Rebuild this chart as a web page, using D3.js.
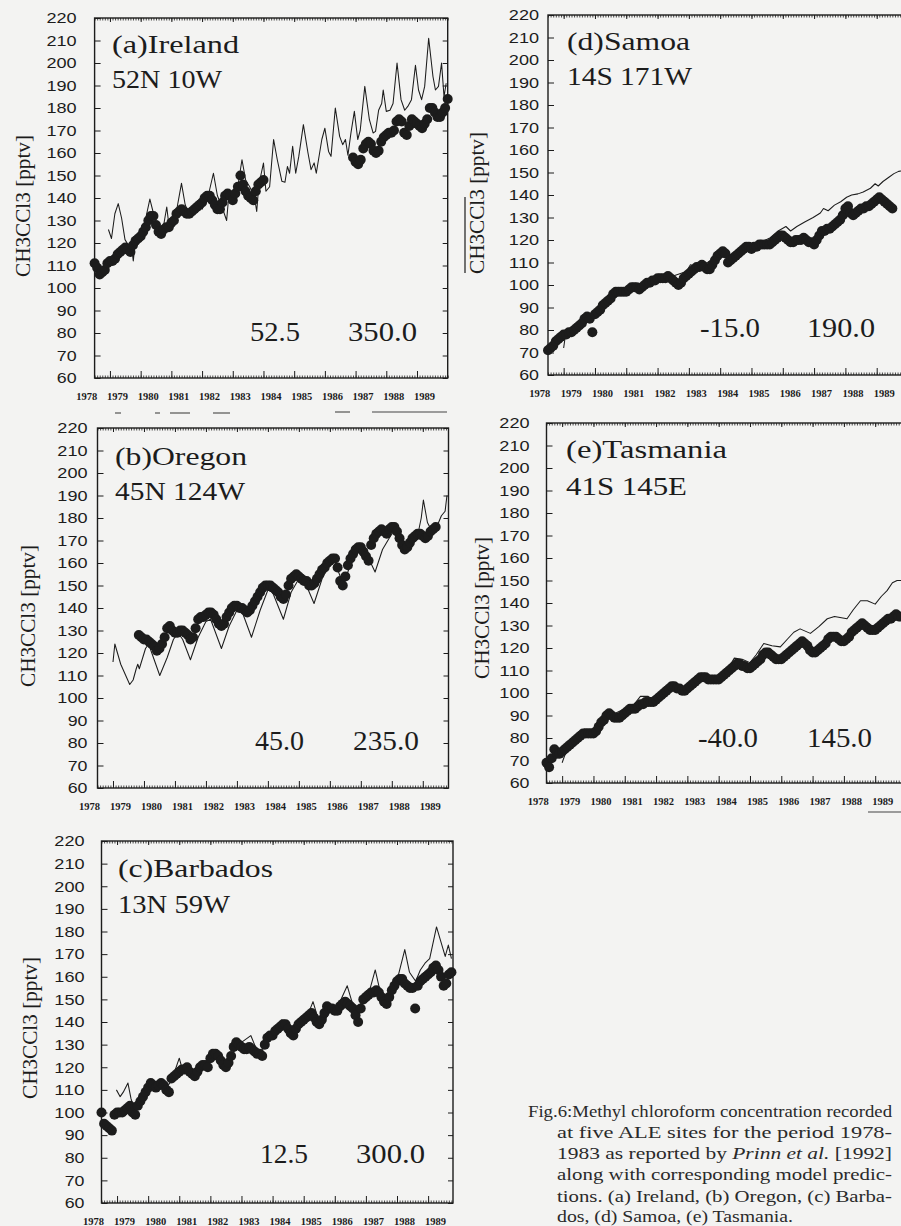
<!DOCTYPE html>
<html>
<head>
<meta charset="utf-8">
<script src="https://cdn.jsdelivr.net/npm/d3@7"></script>
<style>
  html, body { margin: 0; padding: 0; background: #f3f3f2; }
  svg { display: block; }
</style>
</head>
<body>
<svg id="fig" width="901" height="1226"></svg>
<script>
// ---------------- data ----------------
// axis values
const yTicks = [60, 70, 80, 90, 100, 110, 120, 130, 140, 150, 160, 170, 180, 190, 200, 210, 220];
const yearLabels = [1978, 1979, 1980, 1981, 1982, 1983, 1984, 1985, 1986, 1987, 1988, 1989];
const majorYears = [1979, 1980, 1981, 1982, 1983, 1984, 1985, 1986, 1987, 1988, 1989];

// station text
const siteNames = ["(a)Ireland", "(b)Oregon", "(c)Barbados", "(d)Samoa", "(e)Tasmania"];
const siteCoords = ["52N 10W", "45N 124W", "13N 59W", "14S 171W", "41S 145E"];
const modelLat = ["52.5", "45.0", "12.5", "-15.0", "-40.0"];
const modelLon = ["350.0", "235.0", "300.0", "190.0", "145.0"];

// observed monthly means (pptv); each list starts at the given decimal year, one value per month
const startIrelandEarly = 1978.5;
const obsIrelandEarly = [111,109,106,107,108,111,112,112,113,115,116,117,118,117,116,119,121,122,123,125,
  127,130,132,132,128,125,124,126,127,127,129,130,133,134,135,134,133,133,134,135,
  136,137,138,140,141,141,139,137,135,135,138,141,142,141,139,142,145,150,146,143,
  141,140,139,143,146,147,148];
const startIrelandLate = 1986 + 11 / 12;
const obsIrelandLate = [158,156,155,157,162,164,165,164,161,160,161,165,167,168,169,169,170,174,175,174,
  169,168,172,175,174,173,172,171,173,175,180,180,178,176,176,178,180,184];

const startOregon = 1979 + 10 / 12;
const obsOregon = [128,127,
  126,126,125,124,123,121,122,124,127,131,132,130,
  129,129,130,130,129,128,126,127,131,135,136,136,
  137,138,138,137,135,133,132,133,136,138,140,141,
  141,140,140,139,138,139,141,143,145,147,149,150,
  150,150,149,148,147,145,144,146,150,153,154,155,
  154,153,152,152,150,150,151,153,155,157,158,160,
  161,162,162,158,152,150,154,159,162,164,166,167,
  167,165,163,161,168,171,173,174,175,174,173,175,
  176,176,174,171,168,166,167,169,171,172,173,173,
  172,171,172,174,175,176];

const startBarbados = 1978.5;
const obsBarbados = [100,95,94,93,92,99,
  100,100,100,101,102,103,100,99,103,105,107,109,
  111,113,112,111,112,113,112,110,109,115,116,117,
  118,119,119,120,118,117,116,118,120,121,121,120,
  124,126,126,125,123,121,120,122,125,129,131,130,
  129,128,128,129,128,127,126,126,125,130,133,134,
  134,136,137,138,139,139,137,135,134,137,139,140,
  141,142,143,144,142,140,139,141,144,147,146,146,
  145,145,147,148,149,148,147,146,143,140,146,150,
  151,152,153,153,154,153,151,149,148,151,154,156,
  158,159,159,157,156,155,155,146,156,158,159,160,
  161,162,164,165,163,160,156,157,161,162];

const startSamoa = 1978.5;
const obsSamoa = [71,72,73,75,76,77,
  78,78,79,79,80,81,82,83,85,86,85,79,
  87,88,89,91,92,93,94,96,97,97,97,97,
  97,98,99,99,99,98,99,100,101,101,102,102,
  103,103,103,103,104,103,102,101,100,101,103,104,
  105,106,107,108,108,109,108,107,107,109,111,113,
  114,115,114,110,111,112,113,114,115,116,117,117,
  116,117,117,118,118,118,118,118,119,120,121,122,
  122,121,120,119,119,120,120,120,121,120,119,119,
  118,120,122,124,124,125,125,126,127,128,129,131,
  134,135,132,131,132,133,134,134,135,135,136,137,
  138,139,138,137,136,135,134];

const startTasmania = 1978.5;
const obsTasmania = [69,67,71,75,73,73,
  74,75,76,77,78,79,80,81,82,82,82,82,
  82,83,85,87,88,90,91,90,89,89,89,90,
  91,92,93,93,93,94,95,95,96,96,96,96,
  97,98,99,100,101,102,103,103,102,102,101,101,
  102,103,104,105,106,107,107,107,106,106,106,106,
  106,107,108,109,110,111,112,113,113,112,112,111,
  111,112,113,114,115,117,118,118,117,116,115,115,
  115,116,117,118,119,120,121,122,123,122,121,119,
  118,118,119,120,121,122,124,125,125,125,124,123,
  123,124,125,127,128,129,130,131,130,129,128,128,
  128,129,130,131,132,133,133,134,135,134,134];

// model predictions: [decimal year, pptv]
const modelIreland = [[1978.95,126],[1979.05,122],[1979.16,133],[1979.27,137.5],[1979.38,131],[1979.49,121.5],
  [1979.6,119],[1979.7,119],[1979.76,112],[1979.82,120],[1980.0,124],[1980.15,130],[1980.3,139.5],[1980.42,133],
  [1980.55,126],[1980.7,124],[1980.85,136],[1980.92,128],[1981.0,130],[1981.15,133],[1981.33,146.5],[1981.45,137],
  [1981.6,132],[1981.75,133],[1981.9,138],[1982.0,135],[1982.2,141],[1982.37,151],[1982.5,141],[1982.65,136],
  [1982.8,130],[1982.87,141],[1983.0,141],[1983.15,144],[1983.3,157],[1983.42,148],[1983.55,145],[1983.7,141],
  [1983.78,134],[1983.85,146],[1984.0,155.5],[1984.08,143],[1984.2,145],[1984.33,166],[1984.45,157],[1984.6,147.4],
  [1984.7,147],[1984.78,154],[1984.85,151],[1984.95,163],[1985.05,151],[1985.15,158.5],[1985.3,172.6],[1985.45,160],
  [1985.55,152.6],[1985.65,155.6],[1985.72,151],[1985.9,166],[1986.0,171],[1986.12,160.7],[1986.2,158.5],[1986.34,180],
  [1986.48,167.4],[1986.58,163.7],[1986.67,166],[1986.75,159],[1986.85,169],[1986.96,178.5],[1987.07,166],[1987.15,170],
  [1987.3,189.6],[1987.45,174.8],[1987.57,168.9],[1987.65,169.6],[1987.75,179],[1987.85,182],[1987.9,188],[1988.0,178.5],
  [1988.12,179],[1988.22,182],[1988.35,200],[1988.48,183.7],[1988.6,179],[1988.7,180.7],[1988.82,183.7],[1988.95,199],
  [1989.05,188],[1989.15,183.7],[1989.25,189.6],[1989.38,211],[1989.52,194],[1989.6,188],[1989.7,189.6],[1989.8,200],
  [1989.88,185],[1989.95,191]];

const modelOregon = [[1979.0,116],[1979.06,124],[1979.25,115],[1979.54,106],[1979.65,108],[1979.75,113],[1979.8,115],
  [1979.85,113],[1980.05,122],[1980.15,124],[1980.51,110],[1980.75,118],[1980.95,126],[1981.1,129],[1981.25,126],
  [1981.5,117],[1981.75,127],[1982.0,134],[1982.15,135],[1982.5,122],[1982.75,132],[1983.0,139],[1983.15,139],
  [1983.47,127],[1983.75,139],[1984.0,148],[1984.15,147],[1984.5,135],[1984.75,147],[1985.0,153],[1985.15,153],
  [1985.49,142],[1985.75,153],[1986.0,160],[1986.15,161],[1986.44,150],[1986.7,161],[1987.0,166],[1987.15,165],
  [1987.46,156],[1987.7,166],[1988.0,173],[1988.15,173],[1988.43,165],[1988.6,169],[1988.8,170],[1988.95,180],
  [1989.02,188],[1989.15,178],[1989.3,174],[1989.45,176],[1989.6,181],[1989.72,183],[1989.78,190]];

const modelBarbados = [[1978.98,110],[1979.1,107],[1979.2,109],[1979.35,113],[1979.45,106],[1979.55,102],[1979.7,103],
  [1979.85,107],[1980.0,112],[1980.15,114],[1980.3,112],[1980.5,110],[1980.7,113],[1980.85,118],[1981.0,124],
  [1981.1,119],[1981.3,119],[1981.55,117],[1981.8,121],[1982.0,125],[1982.15,127],[1982.35,124],[1982.55,122],
  [1982.8,128],[1983.0,131],[1983.3,134],[1983.45,129],[1983.65,127],[1983.85,132],[1984.1,136],[1984.3,141],
  [1984.45,136],[1984.65,134],[1984.9,139],[1985.1,142],[1985.3,149],[1985.45,142],[1985.65,140],[1985.9,146],
  [1986.1,147],[1986.4,156],[1986.55,149],[1986.75,146],[1986.95,151],[1987.1,153],[1987.3,163],[1987.45,154],
  [1987.65,150],[1987.9,157],[1988.05,161],[1988.25,172],[1988.4,162],[1988.6,158],[1988.75,163],[1988.9,166],
  [1989.05,168],[1989.27,182],[1989.4,176],[1989.55,169],[1989.65,174],[1989.75,168]];

const modelSamoa = [[1979.0,72],[1979.05,77],[1979.3,79],[1979.6,83],[1980.0,87],[1980.5,93],[1981.0,98],[1981.5,100],
  [1982.0,103],[1982.5,104],[1982.92,106],[1983.05,109],[1983.3,108],[1983.6,110],[1984.0,114],[1984.3,113],
  [1984.6,116],[1985.0,118],[1985.3,119],[1985.6,121],[1985.85,124],[1986.1,126],[1986.25,124],[1986.45,126],
  [1986.7,128],[1986.97,130],[1987.2,132],[1987.3,134],[1987.45,133],[1987.65,135.5],[1987.85,137],[1988.04,139],
  [1988.2,140],[1988.4,140.5],[1988.57,141.3],[1988.8,143],[1988.95,145],[1989.05,144],[1989.2,146],[1989.4,148],
  [1989.55,149.5],[1989.7,150.5],[1989.9,151]];

const modelTasmania = [[1979.0,69],[1979.1,73],[1979.3,76],[1979.55,81],[1979.7,84],[1980.0,84],[1980.1,85],[1980.4,90],
  [1980.7,91],[1981.0,93],[1981.3,95],[1981.5,98.5],[1981.75,98.5],[1981.9,97],[1982.2,100],[1982.5,103.5],
  [1982.9,102.5],[1983.3,106],[1983.5,108],[1983.9,107],[1984.15,107.5],[1984.35,112],[1984.5,115.5],[1984.75,115],
  [1985.0,113.5],[1985.2,117],[1985.44,122],[1985.7,121],[1985.97,120.5],[1986.2,124],[1986.4,127],[1986.6,128.5],
  [1986.93,126.5],[1987.2,129.5],[1987.47,133],[1987.7,134],[1988.1,133],[1988.3,137],[1988.53,141],[1988.75,141],
  [1989.0,139.5],[1989.2,143],[1989.38,145.5],[1989.55,149],[1989.7,150],[1989.85,150]];

const captionLines = [
  ["Fig.6:Methyl chloroform concentration recorded"],
  ["at five ALE sites for the period 1978-"],
  ["1983 as reported by ", "Prinn et al.", " [1992]"],
  ["along with corresponding model predic-"],
  ["tions. (a) Ireland, (b) Oregon, (c) Barba-"],
  ["dos, (d) Samoa, (e) Tasmania."]
];

// ---------------- layout ----------------
const panelLayout = [
  { x0: 94.6, x1: 447.7, y0: 18, y1: 378, xEnd: 1990, labGap: 18, titleX: 23, titleY: 206,
    nameX: 112, nameY: 53, coordY: 88, nameW: 127, coordW: 110, latX: 250, lonX: 348, numY: 341, latW: 50, lonW: 69 },
  { x0: 97.5, x1: 448.5, y0: 428, y1: 788, xEnd: 1989.83, labGap: 10, titleX: 28, titleY: 616,
    nameX: 115, nameY: 465, coordY: 500, nameW: 132, coordW: 130, latX: 255, lonX: 353, numY: 750, latW: 49, lonW: 66 },
  { x0: 101.5, x1: 453, y0: 841, y1: 1203, xEnd: 1989.8, labGap: 17, titleX: 30, titleY: 1028,
    nameX: 118, nameY: 877, coordY: 913, nameW: 155, coordW: 112, latX: 260, lonX: 356, numY: 1163, latW: 48, lonW: 69 },
  { x0: 548, x1: 908, y0: 15, y1: 375, xEnd: 1990, labGap: 9, titleX: 477, titleY: 203,
    nameX: 567, nameY: 50, coordY: 85, nameW: 123, coordW: 125, latX: 700, lonX: 807, numY: 337, latW: 60, lonW: 68 },
  { x0: 546.5, x1: 906.5, y0: 423, y1: 783, xEnd: 1990, labGap: 17, titleX: 482, titleY: 608,
    nameX: 566, nameY: 458, coordY: 495, nameW: 161, coordW: 121, latX: 698, lonX: 807, numY: 747, latW: 60, lonW: 65 }
];

const panelObs = [
  [[obsIrelandEarly, startIrelandEarly], [obsIrelandLate, startIrelandLate]],
  [[obsOregon, startOregon]],
  [[obsBarbados, startBarbados]],
  [[obsSamoa, startSamoa]],
  [[obsTasmania, startTasmania]]
];
const panelModel = [modelIreland, modelOregon, modelBarbados, modelSamoa, modelTasmania];

// ---------------- drawing ----------------
const ink = "#1c1c1c";
const serif = "'Liberation Serif', 'Times New Roman', Times, serif";
const sans = "'Liberation Sans', Arial, Helvetica, sans-serif";

const svg = d3.select("#fig");
svg.append("rect").attr("width", 901).attr("height", 1226).attr("fill", "#f3f3f2");

function styleAxis(sel) {
  sel.select(".domain").remove();
  sel.selectAll(".tick line").attr("stroke", ink).attr("stroke-width", 1);
}

panelLayout.forEach((L, i) => {
  const x = d3.scaleLinear().domain([1978.5, L.xEnd]).range([L.x0, L.x1]);
  const y = d3.scaleLinear().domain([60, 220]).range([L.y1, L.y0]);
  const g = svg.append("g");

  const nMonths = Math.floor((L.xEnd - 1978.5) * 12 + 1e-6);
  const months = d3.range(nMonths + 1).map(k => 1978.5 + k / 12);

  // minor (monthly) ticks top and bottom
  g.append("g").attr("transform", `translate(0,${L.y1})`)
    .call(d3.axisBottom(x).tickValues(months).tickSize(-2.5).tickFormat(""))
    .call(styleAxis).call(s => s.selectAll(".tick line").attr("stroke-width", 0.8));
  g.append("g").attr("transform", `translate(0,${L.y0})`)
    .call(d3.axisTop(x).tickValues(months).tickSize(-2.5).tickFormat(""))
    .call(styleAxis).call(s => s.selectAll(".tick line").attr("stroke-width", 0.8));

  // major year ticks
  g.append("g").attr("transform", `translate(0,${L.y1})`)
    .call(d3.axisBottom(x).tickValues(majorYears).tickSize(-7).tickFormat(""))
    .call(styleAxis);
  g.append("g").attr("transform", `translate(0,${L.y0})`)
    .call(d3.axisTop(x).tickValues(majorYears).tickSize(-4).tickFormat(""))
    .call(styleAxis);

  // year labels
  g.append("g").attr("transform", `translate(0,${L.y1})`)
    .call(d3.axisBottom(x).tickValues(yearLabels).tickSize(0).tickPadding(14.5).tickFormat(d3.format("d")))
    .call(s => s.select(".domain").remove())
    .call(s => s.selectAll(".tick text")
      .attr("dx", 7)
      .attr("fill", ink)
      .style("font-family", serif)
      .style("font-weight", "bold")
      .style("font-size", "10.5px"));

  // y ticks + labels on the left, plain ticks on the right
  g.append("g").attr("transform", `translate(${L.x0},0)`)
    .call(d3.axisLeft(y).tickValues(yTicks).tickSize(-6).tickPadding(L.labGap))
    .call(styleAxis)
    .call(s => s.selectAll(".tick text")
      .attr("fill", ink)
      .style("font-family", sans)
      .style("font-size", "15px")
      .attr("textLength", d => String(d).length * 10.4 - 1)
      .attr("lengthAdjust", "spacingAndGlyphs"));
  g.append("g").attr("transform", `translate(${L.x1},0)`)
    .call(d3.axisRight(y).tickValues(yTicks).tickSize(-5).tickFormat(""))
    .call(styleAxis);

  // frame
  g.append("rect")
    .attr("x", L.x0).attr("y", L.y0)
    .attr("width", L.x1 - L.x0).attr("height", L.y1 - L.y0)
    .attr("fill", "none").attr("stroke", ink).attr("stroke-width", 1.4);

  // model line
  const line = d3.line().x(d => x(d[0])).y(d => y(d[1]));
  g.append("path")
    .datum(panelModel[i])
    .attr("d", line)
    .attr("fill", "none")
    .attr("stroke", ink)
    .attr("stroke-width", 1.05)
    .attr("stroke-linejoin", "round");

  // observations
  panelObs[i].forEach(([vals, start]) => {
    g.append("g").selectAll("circle")
      .data(vals.map((v, k) => [start + k / 12, v]))
      .join("circle")
      .attr("cx", d => x(d[0]))
      .attr("cy", d => y(d[1]))
      .attr("r", 5)
      .attr("fill", ink);
  });

  // y-axis title
  g.append("text")
    .attr("transform", `translate(${L.titleX},${L.titleY}) rotate(-90)`)
    .attr("text-anchor", "middle")
    .attr("dominant-baseline", "central")
    .attr("fill", ink)
    .attr("textLength", 142)
    .attr("lengthAdjust", "spacingAndGlyphs")
    .style("font-family", serif)
    .style("font-size", "21px")
    .text("CH3CCl3 [pptv]");

  // station name and location
  g.append("text")
    .attr("x", L.nameX).attr("y", L.nameY)
    .attr("fill", ink)
    .attr("textLength", L.nameW).attr("lengthAdjust", "spacingAndGlyphs")
    .style("font-family", serif).style("font-size", "25px")
    .text(siteNames[i]);
  g.append("text")
    .attr("x", L.nameX).attr("y", L.coordY)
    .attr("fill", ink)
    .attr("textLength", L.coordW).attr("lengthAdjust", "spacingAndGlyphs")
    .style("font-family", serif).style("font-size", "25px")
    .text(siteCoords[i]);

  // model grid point
  g.append("text")
    .attr("x", L.latX).attr("y", L.numY)
    .attr("fill", ink)
    .attr("textLength", L.latW).attr("lengthAdjust", "spacingAndGlyphs")
    .style("font-family", serif).style("font-size", "28px")
    .text(modelLat[i]);
  g.append("text")
    .attr("x", L.lonX).attr("y", L.numY)
    .attr("fill", ink)
    .attr("textLength", L.lonW).attr("lengthAdjust", "spacingAndGlyphs")
    .style("font-family", serif).style("font-size", "28px")
    .text(modelLon[i]);
});

// bar over the Samoa axis title
svg.append("line")
  .attr("x1", 465).attr("x2", 465).attr("y1", 197).attr("y2", 273)
  .attr("stroke", ink).attr("stroke-width", 1.2);

// stray rule fragments along the page
const rules = [[115, 121, 413], [155, 160, 413], [170, 190, 413], [213, 230, 413], [335, 350, 412], [372, 447, 412], [868, 901, 812]];
svg.append("g").selectAll("line").data(rules).join("line")
  .attr("x1", d => d[0]).attr("x2", d => d[1])
  .attr("y1", d => d[2]).attr("y2", d => d[2])
  .attr("stroke", "#444").attr("stroke-width", 1.1);

// caption, justified to the right margin
const capX = [528, 557, 557, 557, 557, 557];
const capY = [1117, 1138, 1159, 1180, 1202, 1222];
const capW = [364, 335, 335, 335, 335, 236];
captionLines.forEach((parts, k) => {
  const t = svg.append("text")
    .attr("x", capX[k]).attr("y", capY[k])
    .attr("fill", "#2a2a2a")
    .attr("textLength", capW[k]).attr("lengthAdjust", "spacingAndGlyphs")
    .style("font-family", serif).style("font-size", "16px");
  parts.forEach((p, j) => {
    t.append("tspan").text(p).style("font-style", (k === 2 && j === 1) ? "italic" : "normal");
  });
});
</script>
</body>
</html>
